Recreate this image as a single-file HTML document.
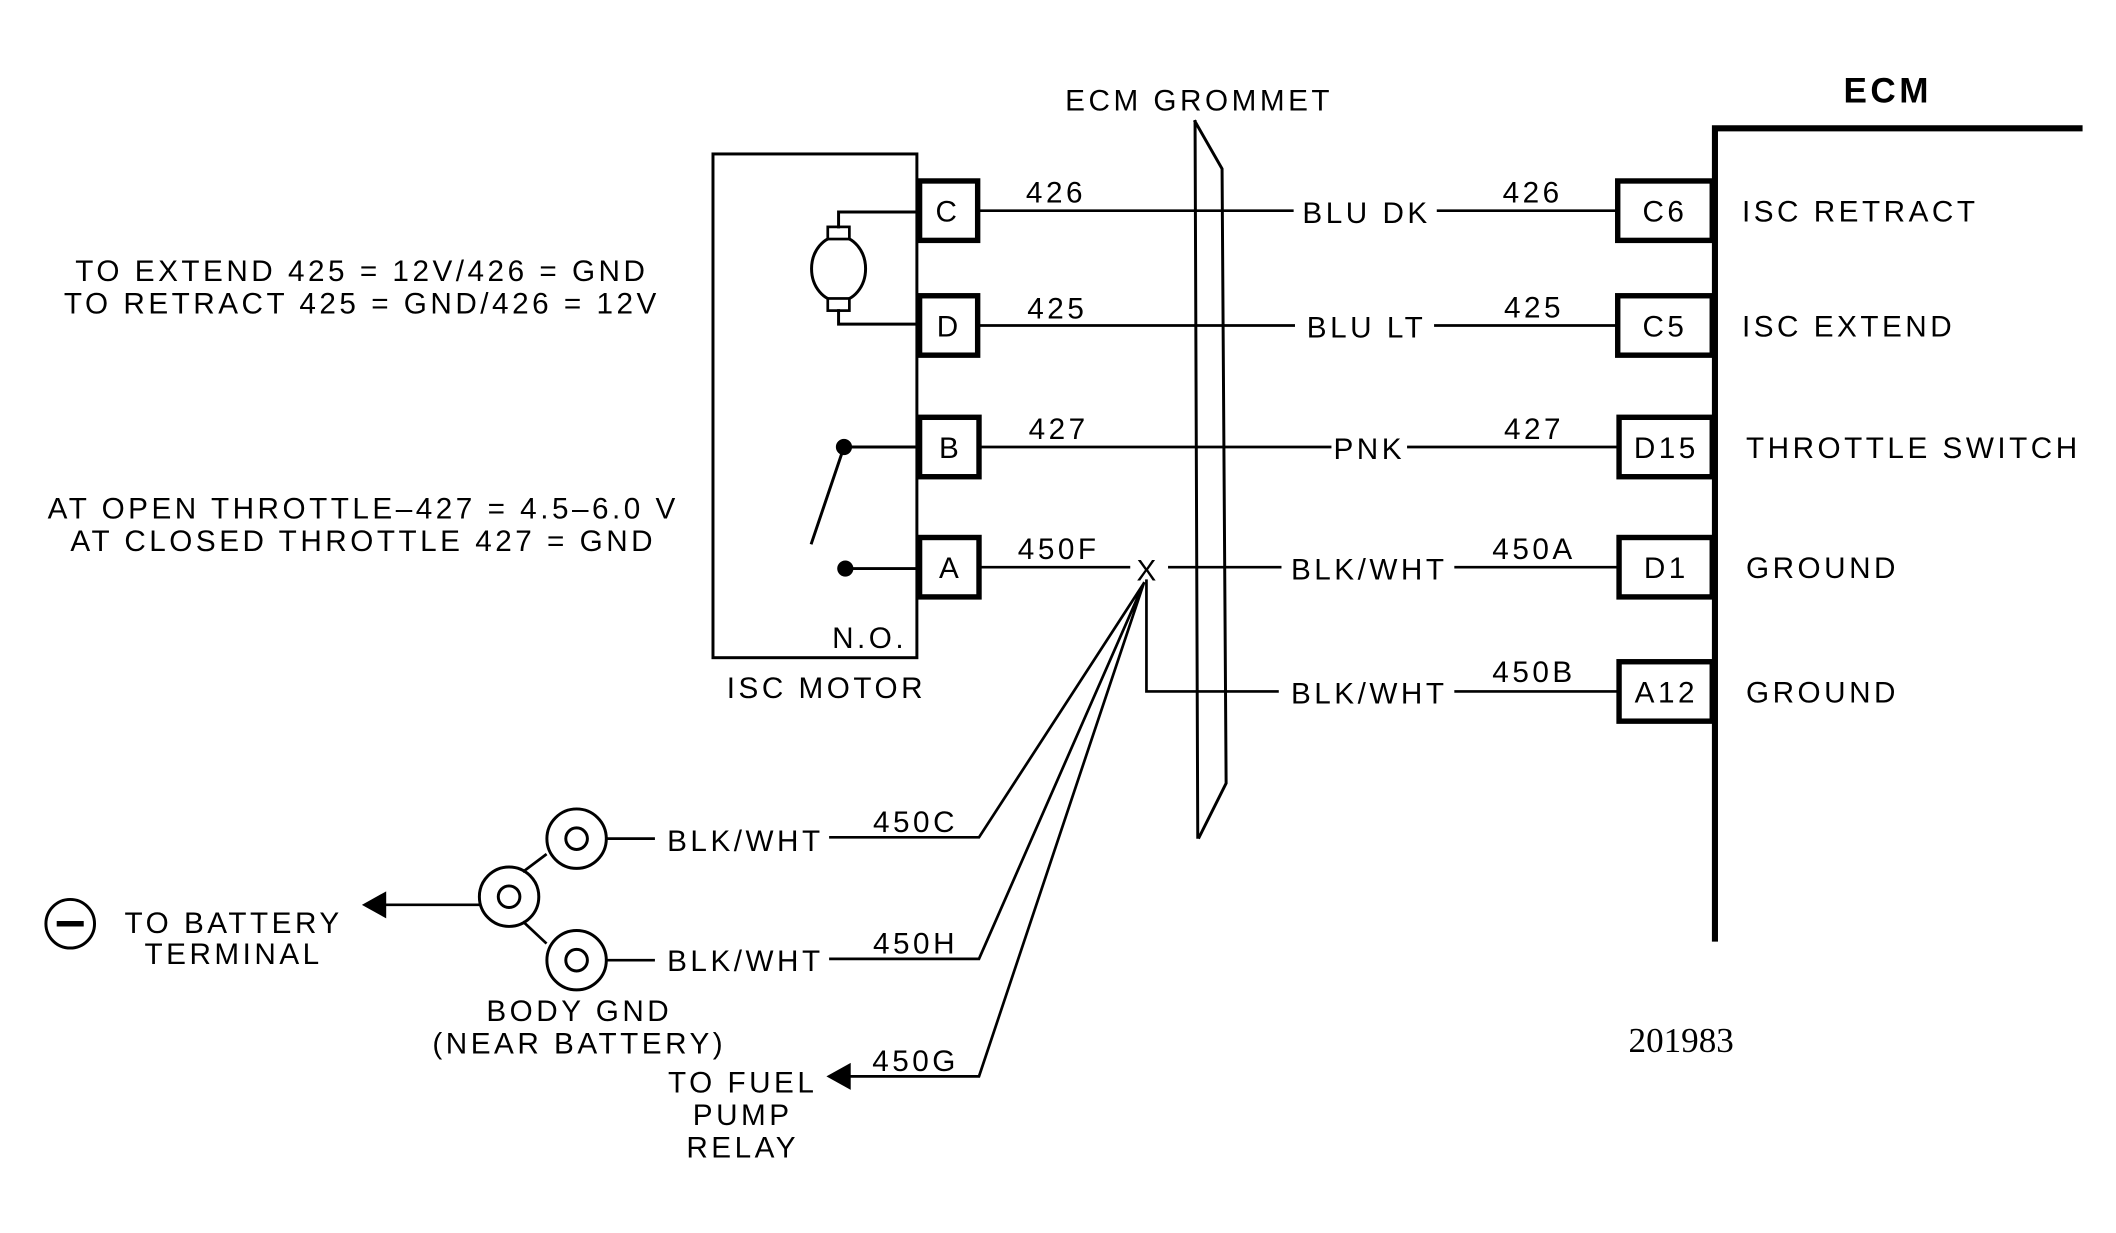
<!DOCTYPE html>
<html><head><style>
html,body{margin:0;padding:0;background:#fff;}
svg{display:block;}
text{font-family:"Liberation Sans",sans-serif;fill:#000;letter-spacing:2.6px;}
</style></head><body>
<svg width="2116" height="1233" viewBox="0 0 1567 913" preserveAspectRatio="none" xmlns="http://www.w3.org/2000/svg">
<g stroke="#000" fill="none" stroke-linecap="square">
<path d="M1270 95 H1540 M1270 95 V695" stroke-width="4.5"/>
<rect x="1198" y="134" width="70" height="44" stroke-width="4"/>
<rect x="1198" y="219" width="70" height="44" stroke-width="4"/>
<rect x="1199" y="309" width="69" height="44" stroke-width="4"/>
<rect x="1199" y="398" width="69" height="44" stroke-width="4"/>
<rect x="1199" y="490" width="69" height="44" stroke-width="4"/>
<rect x="528" y="114" width="151" height="373" stroke-width="2.2"/>
<rect x="681" y="134" width="43" height="44" stroke-width="4"/>
<rect x="681" y="219" width="43" height="44" stroke-width="4"/>
<rect x="681" y="309" width="44" height="44" stroke-width="4"/>
<rect x="681" y="398" width="44" height="44" stroke-width="4"/>
<ellipse cx="621" cy="199" rx="20" ry="24" stroke-width="2.2"/>
<rect x="613" y="168" width="16" height="9" stroke-width="2" fill="#fff"/>
<rect x="613" y="221" width="16" height="9" stroke-width="2" fill="#fff"/>
<path d="M621 168 V157 H681 M621 230 V240 H681" stroke-width="2.2"/>
<path d="M625 331 H681 M626 421 H681 M625 331 L601 402" stroke-width="2.2"/>
<g stroke-width="2">
<path d="M725 156 H957 M1065 156 H1198"/>
<path d="M725 241 H958 M1063 241 H1198"/>
<path d="M725 331 H985 M1043 331 H1199"/>
<path d="M725 420 H836 M866 420 H948 M1078 420 H1199"/>
<path d="M849 430 V512 H946 M1078 512 H1199"/>
<path d="M847 432 L725 620 H615 M847 432 L725 710 H615 M847 432 L725 797 H625"/>
<path d="M450 621 H484 M450 711 H484 M355 670 H282"/>
<path d="M388 645 L404 633 M388 683 L404 698"/>
</g>
<path d="M885 90 L887 620 M885 90 L905 125 L908 580 L888 620" stroke-width="2.2"/>
<g stroke-width="2.2">
<circle cx="427" cy="621" r="22"/><circle cx="427" cy="621" r="8"/>
<circle cx="377" cy="664" r="22"/><circle cx="377" cy="664" r="8"/>
<circle cx="427" cy="711" r="22"/><circle cx="427" cy="711" r="8"/>
<circle cx="52" cy="684" r="18"/>
</g>
<path d="M44 684 H60" stroke-width="4"/>
</g>
<circle cx="625" cy="331" r="6"/>
<circle cx="626" cy="421" r="6"/>
<path d="M268 670 L286 660 L286 680 Z"/>
<path d="M612 797 L630 787 L630 807 Z"/>
<text x="849" y="430" font-size="22" text-anchor="middle" style="letter-spacing:0">X</text>
<g font-size="22">
<text x="888" y="82" text-anchor="middle">ECM GROMMET</text>
<text x="1398" y="76" font-size="26" font-weight="bold" text-anchor="middle">ECM</text>
<text x="1290" y="164">ISC RETRACT</text>
<text x="1290" y="249">ISC EXTEND</text>
<text x="1293" y="339">THROTTLE SWITCH</text>
<text x="1293" y="428">GROUND</text>
<text x="1293" y="520">GROUND</text>
<text x="1233" y="164" text-anchor="middle">C6</text>
<text x="1233" y="249" text-anchor="middle">C5</text>
<text x="1234" y="339" text-anchor="middle">D15</text>
<text x="1234" y="428" text-anchor="middle">D1</text>
<text x="1234" y="520" text-anchor="middle">A12</text>
<text x="702" y="164" text-anchor="middle">C</text>
<text x="703" y="249" text-anchor="middle">D</text>
<text x="704" y="339" text-anchor="middle">B</text>
<text x="704" y="428" text-anchor="middle">A</text>
<text x="1012" y="165" text-anchor="middle">BLU DK</text>
<text x="1012" y="250" text-anchor="middle">BLU LT</text>
<text x="1014" y="340" text-anchor="middle">PNK</text>
<text x="1014" y="429" text-anchor="middle">BLK/WHT</text>
<text x="1014" y="521" text-anchor="middle">BLK/WHT</text>
<text x="782" y="150" text-anchor="middle">426</text>
<text x="783" y="236" text-anchor="middle">425</text>
<text x="784" y="325" text-anchor="middle">427</text>
<text x="784" y="414" text-anchor="middle">450F</text>
<text x="1135" y="150" text-anchor="middle">426</text>
<text x="1136" y="235" text-anchor="middle">425</text>
<text x="1136" y="325" text-anchor="middle">427</text>
<text x="1136" y="414" text-anchor="middle">450A</text>
<text x="1136" y="505" text-anchor="middle">450B</text>
<text x="644" y="480" text-anchor="middle">N.O.</text>
<text x="612" y="517" text-anchor="middle">ISC MOTOR</text>
<text x="268" y="208" text-anchor="middle">TO EXTEND 425 = 12V/426 = GND</text>
<text x="268" y="232" text-anchor="middle">TO RETRACT 425 = GND/426 = 12V</text>
<text x="269" y="384" text-anchor="middle">AT OPEN THROTTLE–427 = 4.5–6.0 V</text>
<text x="269" y="408" text-anchor="middle">AT CLOSED THROTTLE 427 = GND</text>
<text x="552" y="630" text-anchor="middle">BLK/WHT</text>
<text x="552" y="719" text-anchor="middle">BLK/WHT</text>
<text x="678" y="616" text-anchor="middle">450C</text>
<text x="678" y="706" text-anchor="middle">450H</text>
<text x="678" y="793" text-anchor="middle">450G</text>
<text x="173" y="691" text-anchor="middle">TO BATTERY</text>
<text x="173" y="714" text-anchor="middle">TERMINAL</text>
<text x="429" y="756" text-anchor="middle">BODY GND</text>
<text x="429" y="780" text-anchor="middle">(NEAR BATTERY)</text>
<text x="550" y="809" text-anchor="middle">TO FUEL</text>
<text x="550" y="833" text-anchor="middle">PUMP</text>
<text x="550" y="857" text-anchor="middle">RELAY</text>
<text x="1245" y="779" font-size="26" text-anchor="middle" style="font-family:'Liberation Serif',serif;letter-spacing:0">201983</text>
</g>
</svg>
</body></html>
